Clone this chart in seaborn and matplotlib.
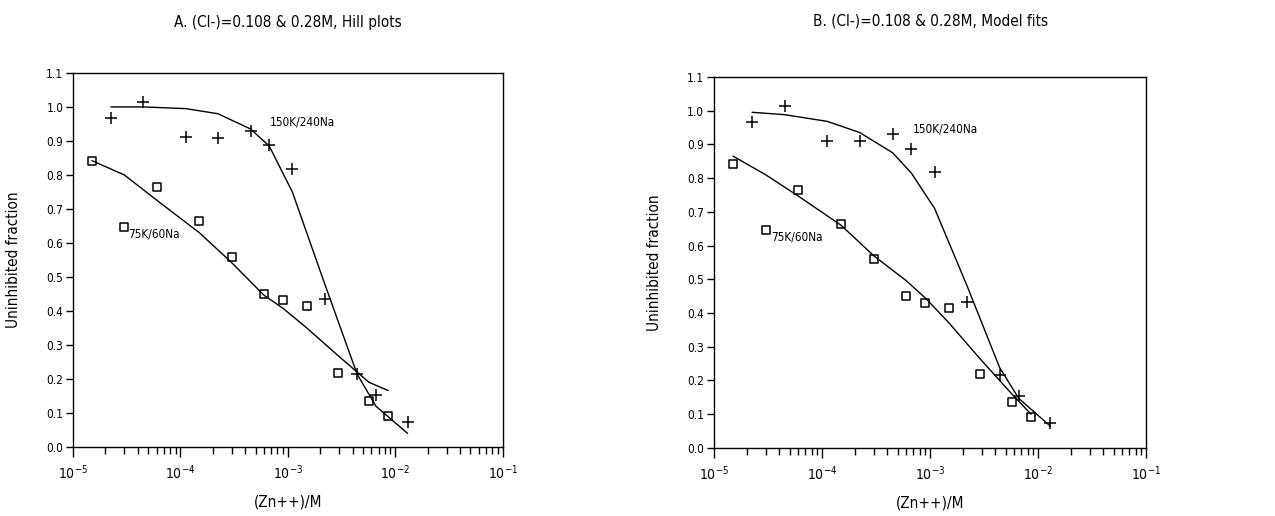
import numpy as np
import pandas as pd
import matplotlib
matplotlib.use("Agg")
import matplotlib.pyplot as plt
import matplotlib.ticker as mticker
import seaborn as sns

# measured data (same points in both panels)
zn_k150 = [2.25e-5, 4.5e-5, 1.12e-4, 2.23e-4, 4.5e-4, 6.7e-4, 1.1e-3, 2.2e-3, 4.4e-3, 6.6e-3, 1.3e-2]
frac_k150 = [0.966, 1.013, 0.911, 0.910, 0.930, 0.887, 0.818, 0.434, 0.215, 0.153, 0.073]

zn_k75 = [1.5e-5, 3.0e-5, 6.0e-5, 1.5e-4, 3.0e-4, 6.0e-4, 9.0e-4, 1.5e-3, 2.9e-3, 5.7e-3, 8.6e-3]
frac_k75 = [0.842, 0.647, 0.766, 0.664, 0.559, 0.449, 0.431, 0.415, 0.219, 0.135, 0.092]

# fitted curves, at the data concentrations
hill_k150 = [1.000, 1.000, 0.995, 0.980, 0.935, 0.885, 0.750, 0.480, 0.215, 0.120, 0.040]
hill_k75 = [0.842, 0.800, 0.726, 0.630, 0.542, 0.446, 0.408, 0.350, 0.270, 0.190, 0.166]
model_k150 = [0.995, 0.988, 0.968, 0.935, 0.875, 0.815, 0.710, 0.480, 0.238, 0.147, 0.064]
model_k75 = [0.865, 0.810, 0.747, 0.660, 0.570, 0.496, 0.445, 0.370, 0.264, 0.160, 0.100]

titles = ["A. (Cl-)=0.108 & 0.28M, Hill plots", "B. (Cl-)=0.108 & 0.28M, Model fits"]
label_k150 = "150K/240Na"
label_k75 = "75K/60Na"
y_ticks = [0.0, 0.1, 0.2, 0.3, 0.4, 0.5, 0.6, 0.7, 0.8, 0.9, 1.0, 1.1]

sns.set_style("ticks")
plt.rcParams["font.family"] = ["DejaVu Sans"]
plt.rcParams["font.stretch"] = "condensed"
plt.rcParams["text.color"] = "black"
plt.rcParams["axes.labelcolor"] = "black"
plt.rcParams["xtick.color"] = "black"
plt.rcParams["ytick.color"] = "black"

fig = plt.figure(figsize=(12.75, 5.16), dpi=100)
ax_a = fig.add_axes([0.0573, 0.1337, 0.337, 0.725])
ax_b = fig.add_axes([0.560, 0.132, 0.339, 0.719])

pts150 = pd.DataFrame({"zn": zn_k150, "frac": frac_k150})
pts75 = pd.DataFrame({"zn": zn_k75, "frac": frac_k75})
fits = [(hill_k150, hill_k75), (model_k150, model_k75)]
label_pos = [((6.8e-4, 0.955), (3.25e-5, 0.625)), ((6.95e-4, 0.946), (3.35e-5, 0.625))]
title_pads = [33, 37]

for ax, title, (f150, f75), (p150, p75), tpad in zip([ax_a, ax_b], titles, fits, label_pos, title_pads):
    sns.lineplot(x=zn_k150, y=f150, color="black", linewidth=1.0, sort=False,
                 estimator=None, ax=ax)
    sns.lineplot(x=zn_k75, y=f75, color="black", linewidth=1.0, sort=False,
                 estimator=None, ax=ax)
    sns.scatterplot(data=pts150, x="zn", y="frac", marker="+", color="black",
                    s=65, linewidth=1.1, ax=ax)
    sns.scatterplot(data=pts75, x="zn", y="frac", marker="s", facecolor="white",
                    edgecolor="black", s=38, linewidth=1.1, ax=ax)

    ax.set_xscale("log")
    ax.set_xlim(1e-5, 1e-1)
    ax.set_ylim(0, 1.1)
    ax.set_yticks(y_ticks)
    ax.yaxis.set_major_formatter(mticker.FormatStrFormatter("%.1f"))
    ax.xaxis.set_major_locator(mticker.LogLocator(base=10, numticks=10))
    ax.xaxis.set_minor_locator(mticker.LogLocator(base=10, subs=np.arange(2, 10), numticks=10))
    ax.xaxis.set_minor_formatter(mticker.NullFormatter())
    ax.tick_params(axis="x", which="major", length=7, width=1, pad=5, labelsize=10)
    ax.tick_params(axis="x", which="minor", length=5, width=1)
    ax.tick_params(axis="y", which="major", length=5, width=1, labelsize=8.5, pad=2)

    for side in ["top", "right", "left", "bottom"]:
        ax.spines[side].set_visible(True)
        ax.spines[side].set_linewidth(1.0)
        ax.spines[side].set_color("black")

    ax.text(p150[0], p150[1], label_k150, fontsize=8.5, va="center", ha="left")
    ax.text(p75[0], p75[1], label_k75, fontsize=8.5, va="center", ha="left")

    ax.set_title(title, fontsize=11, pad=tpad)
    ax.set_xlabel("(Zn++)/M", fontsize=11, labelpad=9)
    ax.set_ylabel("Uninhibited fraction", fontsize=11, labelpad=18)

fig.savefig("out.png", dpi=100)
